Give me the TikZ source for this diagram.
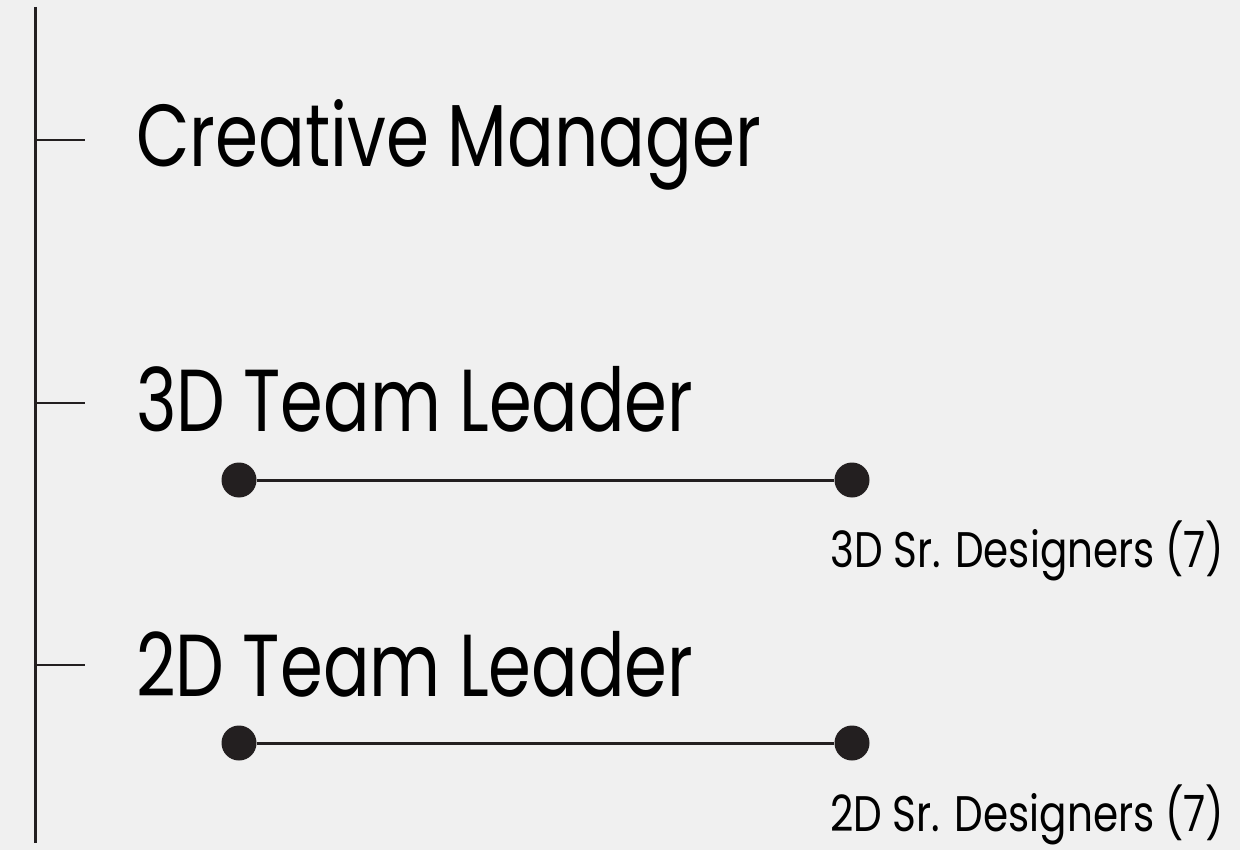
\documentclass[tikz,border=0pt]{standalone}
\usepackage{fontspec}
\setmainfont{Poppins}
\usepackage{graphicx}
\definecolor{bg}{HTML}{F0F0F0}
\definecolor{ink}{HTML}{231F20}
\begin{document}
\begin{tikzpicture}[x=1pt,y=-1pt,
  bigtext/.style={anchor=base west,inner sep=0pt,font=\fontsize{88}{100}\selectfont,text=black},
  smalltext/.style={anchor=base west,inner sep=0pt,font=\fontsize{50}{60}\selectfont,text=black},
  trunk/.style={draw=ink,line width=3pt},
  tick/.style={draw=ink,line width=2pt},
  link/.style={draw=ink,line width=3pt},
  dot/.style={circle,fill=ink,inner sep=0pt,minimum size=35pt}]
\fill[bg] (0,0) rectangle (1240,850);
\useasboundingbox (0,0) rectangle (1240,850);
% trunk
\coordinate (top) at (35,7);
\coordinate (bot) at (35,843);
\draw[trunk] (top) -- (bot);
% ticks
\coordinate (t1a) at (35,140); \coordinate (t1b) at (85,140);
\coordinate (t2a) at (35,403); \coordinate (t2b) at (85,403);
\coordinate (t3a) at (35,665); \coordinate (t3b) at (85,665);
\draw[tick] (t1a) -- (t1b);
\draw[tick] (t2a) -- (t2b);
\draw[tick] (t3a) -- (t3b);
% titles
\node[bigtext] (cm) at (136,167) {\resizebox{625pt}{\height}{Creative Manager}};
\node[bigtext] (l3) at (136,431) {\resizebox{557pt}{\height}{3D Team Leader}};
\node[bigtext] (l2) at (136,696) {\resizebox{557pt}{\height}{2D Team Leader}};
% links
\node[dot] (d3a) at (239,480) {};
\node[dot] (d3b) at (852,480) {};
\draw[link] (d3a) -- (d3b);
\node[dot] (d2a) at (239,743) {};
\node[dot] (d2b) at (852,743) {};
\draw[link] (d2a) -- (d2b);
% sub labels
\node[smalltext] (s3) at (830,567) {\resizebox{394pt}{\height}{3D Sr. Designers (7)}};
\node[smalltext] (s2) at (830,831) {\resizebox{394pt}{\height}{2D Sr. Designers (7)}};
\end{tikzpicture}
\end{document}
